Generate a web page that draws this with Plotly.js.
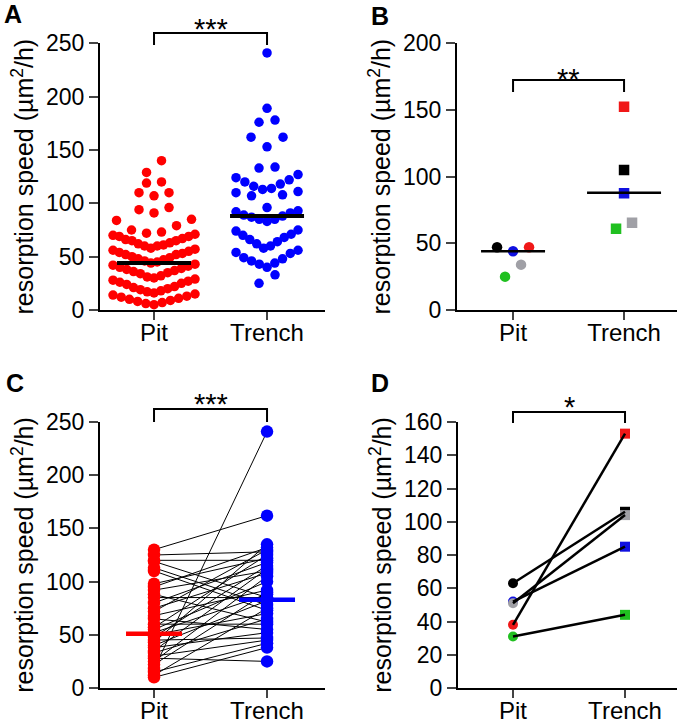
<!DOCTYPE html>
<html>
<head>
<meta charset="utf-8">
<script src="https://cdn.plot.ly/plotly-3.0.1.min.js"></script>
<style>
  html, body { margin: 0; padding: 0; background: #fff; }
  #plot { width: 683px; height: 724px; }
</style>
</head>
<body>
<div id="plot"></div>
<script>
// --- data ---
const categories = ["Pit", "Trench"];

// A: every cell
const pitA = [140, 129, 120, 119, 110, 107, 110, 96, 94, 91, 85, 84, 79, 75, 73, 72,
  71, 70, 69, 69, 67, 66, 65, 65, 63, 62, 61, 60, 60, 58,
  57, 56, 55, 54, 53, 52, 52, 50, 49, 48, 47, 46, 45, 44,
  43, 42, 41, 40, 39, 38, 37, 36, 35, 34, 32, 31, 30,
  29, 28, 27, 26, 25, 24, 22, 21, 20, 19, 18, 17, 16,
  15, 14, 13, 12, 11, 10, 9, 8, 7, 6, 5];
const trenchA = [241, 189, 178, 176, 162, 162, 153, 134, 133, 127,
  124, 122, 120, 118, 116, 114, 113, 111, 110, 108, 107,
  96,
  93, 92, 91, 89, 88, 87, 85, 85, 83,
  75, 74, 71, 70, 68, 66, 64, 62, 60, 58,
  56, 54, 53, 49, 48, 46, 44, 43, 40,
  33, 25];
const medianA = [44, 88];

// B and D: donors, order black, blue, grey, red, green
const pitB = [47, 44, 34, 47, 25];
const trenchB = [105, 87.5, 65.5, 152.5, 61];
const medianB = [44, 88];

// C: paired cells
const pitC = [130, 125, 120, 119, 113, 110, 98, 95, 92, 88, 85, 80, 75, 72, 68, 65, 60, 57,
  55, 52, 50, 48, 45, 43, 40, 38, 35, 33, 30, 28, 25, 22, 18, 15, 12, 10];
const trenchC = [162, 128, 120, 85, 78, 73, 122, 132, 110, 62, 85, 118, 108, 130, 92, 55, 60, 125,
  100, 88, 70, 115, 47, 135, 82, 52, 112, 65, 45, 25, 105, 90, 241, 42, 75, 38];
const medianC = [51, 83];

const pitD = [63, 52, 51, 38, 31];
const trenchD = [106, 85, 104, 153, 44];

// --- styles ---
const donorColors = ["#000000", "#1010e0", "#a0a0a6", "#f01818", "#20c020"];
const RED = "#ff0000", BLUE = "#0000ff";
const FONT = 'Arial, "Liberation Sans", sans-serif';
const W = 683, H = 724;

// panel boxes in pixels: [left, right, top, bottom], x range, y range
const panels = {
  A: { box: [100, 325, 43.3, 310], xr: [-0.478, 1.513], yr: [0, 250], dt: 50 },
  B: { box: [457, 677, 43.3, 310], xr: [-0.505, 1.477], yr: [0, 200], dt: 50 },
  C: { box: [100, 325, 422, 688], xr: [-0.478, 1.513], yr: [0, 250], dt: 50 },
  D: { box: [458, 677, 422, 688], xr: [-0.491, 1.464], yr: [0, 160], dt: 20 }
};
const py = p => 1 - p / H;
const pxPerUnit = p => (p.box[1] - p.box[0]) / (p.xr[1] - p.xr[0]);

// Prism-like scatter: bin values, lay each bin out as a V (lowest in the middle)
function swarm(values, binSize, origin, maxStep, maxHalf) {
  const bins = {};
  values.forEach((v, i) => {
    const k = Math.floor((v - origin) / binSize);
    (bins[k] = bins[k] || []).push(i);
  });
  const off = new Array(values.length).fill(0);
  Object.values(bins).forEach(idx => {
    idx.sort((a, b) => values[a] - values[b]);
    const n = idx.length;
    const step = n > 1 ? Math.min(maxStep, 2 * maxHalf / (n - 1)) : 0;
    idx.forEach((id, j) => {
      let slot;
      if (n % 2) slot = Math.ceil(j / 2) * (j % 2 ? -1 : 1);
      else slot = (Math.floor(j / 2) + 0.5) * (j % 2 ? 1 : -1);
      off[id] = slot * step;
    });
  });
  return off;
}

function medianTrace(p, xa, ya, vals, halfPx, color, width) {
  const h = halfPx.map(v => v / pxPerUnit(p));
  return {
    x: [0 - h[0], 0 + h[0], null, 1 - h[1], 1 + h[1]],
    y: [vals[0], vals[0], null, vals[1], vals[1]],
    xaxis: xa, yaxis: ya, mode: "lines", hoverinfo: "skip",
    line: { color: color, width: width }
  };
}

function pairTrace(xa, ya, a, b, width) {
  const x = [], y = [];
  a.forEach((v, i) => { x.push(0, 1, null); y.push(v, b[i], null); });
  return { x, y, xaxis: xa, yaxis: ya, mode: "lines", line: { color: "black", width: width } };
}

const traces = [];

// A
{
  const p = panels.A, u = pxPerUnit(p);
  const op = swarm(pitA, 14, 2, 15, 41);
  const ot = swarm(trenchA, 18, 22, 16, 31);
  traces.push({ x: op.map(o => 0 + o / u), y: pitA, xaxis: "x", yaxis: "y", mode: "markers",
    cliponaxis: false, marker: { color: RED, size: 9.5 } });
  traces.push({ x: ot.map(o => 1 + o / u), y: trenchA, xaxis: "x", yaxis: "y", mode: "markers",
    cliponaxis: false, marker: { color: BLUE, size: 9.5 } });
  traces.push(medianTrace(p, "x", "y", medianA, [37, 37], "black", 4));
}

// B
{
  const p = panels.B, u = pxPerUnit(p);
  const op = swarm(pitB, 16, 20, 16, 40);
  const ot = swarm(trenchB, 16, 20, 16, 40);
  traces.push({ x: op.map(o => 0 + o / u), y: pitB, xaxis: "x2", yaxis: "y2", mode: "markers",
    marker: { color: donorColors, size: 10.5, symbol: "circle" } });
  traces.push({ x: ot.map(o => 1 + o / u), y: trenchB, xaxis: "x2", yaxis: "y2", mode: "markers",
    marker: { color: donorColors, size: 10.5, symbol: "square" } });
  traces.push(medianTrace(p, "x2", "y2", medianB, [32, 37], "black", 2.5));
}

// C
{
  const p = panels.C;
  traces.push(pairTrace("x3", "y3", pitC, trenchC, 1));
  traces.push({ x: pitC.map(() => 0), y: pitC, xaxis: "x3", yaxis: "y3", mode: "markers",
    cliponaxis: false, marker: { color: RED, size: 12.5 } });
  traces.push({ x: trenchC.map(() => 1), y: trenchC, xaxis: "x3", yaxis: "y3", mode: "markers",
    cliponaxis: false, marker: { color: BLUE, size: 12.5 } });
  const h = 28 / pxPerUnit(p);
  traces.push({ x: [-h, h], y: [medianC[0], medianC[0]], xaxis: "x3", yaxis: "y3", mode: "lines",
    line: { color: RED, width: 4.5 } });
  traces.push({ x: [1 - h, 1 + h], y: [medianC[1], medianC[1]], xaxis: "x3", yaxis: "y3", mode: "lines",
    line: { color: BLUE, width: 4.5 } });
}

// D
{
  traces.push({ x: pitD.map(() => 0), y: pitD, xaxis: "x4", yaxis: "y4", mode: "markers",
    cliponaxis: false, marker: { color: donorColors, size: 10, symbol: "circle" } });
  traces.push({ x: trenchD.map(() => 1), y: trenchD, xaxis: "x4", yaxis: "y4", mode: "markers",
    cliponaxis: false, marker: { color: donorColors, size: 10, symbol: "square" } });
  traces.push(pairTrace("x4", "y4", pitD, trenchD, 2.5));
}

const layout = {
  width: W, height: H,
  margin: { l: 0, r: 0, t: 0, b: 0 },
  showlegend: false,
  paper_bgcolor: "white", plot_bgcolor: "white",
  font: { family: FONT, color: "black", size: 23 },
  shapes: [], annotations: []
};

const ytitle = "resorption speed (µm<sup>2</sup>/h)";
["A", "B", "C", "D"].forEach((name, i) => {
  const p = panels[name];
  const sfx = i === 0 ? "" : String(i + 1);
  layout["xaxis" + sfx] = {
    domain: [p.box[0] / W, p.box[1] / W], range: p.xr, anchor: "y" + sfx,
    tickvals: [0, 1], ticktext: categories, tickfont: { size: 24 }, ticklabelstandoff: -8,
    showline: true, linewidth: 2, linecolor: "black", ticks: "outside", ticklen: 8, tickwidth: 2,
    showgrid: false, zeroline: false, fixedrange: true
  };
  layout["yaxis" + sfx] = {
    domain: [py(p.box[3]), py(p.box[2])], range: p.yr, anchor: "x" + sfx,
    tick0: 0, dtick: p.dt, tickfont: { size: 23 },
    showline: true, linewidth: 2, linecolor: "black", ticks: "outside", ticklen: 9, tickwidth: 2,
    showgrid: false, zeroline: false, fixedrange: true,
    title: { text: ytitle, font: { size: 25 }, standoff: 5 }
  };
});

// significance brackets: [panel axis, top px, end px, stars, star centre px]
const brackets = [
  ["x", 33, 45, "***", 22],
  ["x2", 80, 92, "**", 72],
  ["x3", 409, 422, "***", 397],
  ["x4", 412, 423, "*", 400]
];
brackets.forEach(b => {
  layout.shapes.push({
    type: "path", xref: b[0], yref: "paper",
    path: `M0,${py(b[2])} L0,${py(b[1])} L1,${py(b[1])} L1,${py(b[2])}`,
    line: { color: "black", width: 2 }
  });
  layout.annotations.push({
    xref: b[0], yref: "paper", x: 0.5, y: py(b[4] + 7), yanchor: "middle",
    text: b[3], showarrow: false, font: { size: 29 }
  });
});

// panel letters
[["A", 13, 14], ["B", 380, 16], ["C", 15, 383], ["D", 380, 383]].forEach(l => {
  layout.annotations.push({
    xref: "paper", yref: "paper", x: l[1] / W, y: py(l[2]), xanchor: "center", yanchor: "middle",
    text: "<b>" + l[0] + "</b>", showarrow: false, borderpad: 0, font: { size: 25 }
  });
});

Plotly.newPlot("plot", traces, layout, { displayModeBar: false, staticPlot: true });
</script>
</body>
</html>
